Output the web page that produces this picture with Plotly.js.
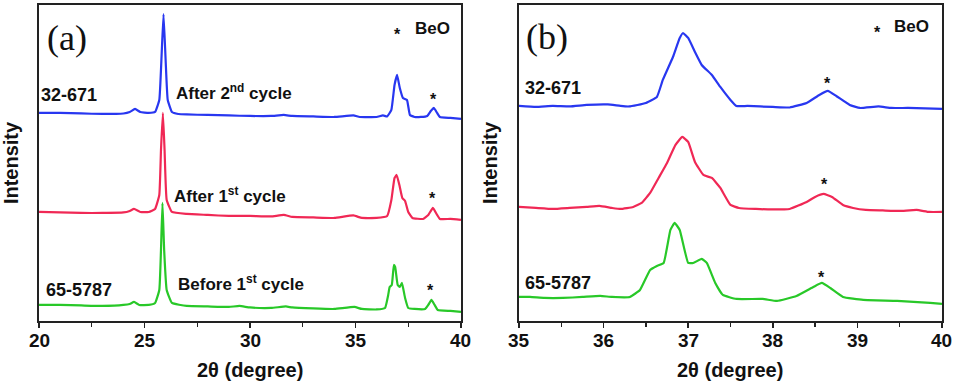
<!DOCTYPE html>
<html>
<head>
<meta charset="utf-8">
<script src="https://cdn.plot.ly/plotly-3.0.1.min.js"></script>
<style>
  html, body { margin: 0; padding: 0; background: #fff; }
  #chart { width: 957px; height: 383px; }
</style>
</head>
<body>
<div id="chart"></div>
<script>
// panel (a): 20-40 degree scans, offset traces
var xA_after2 = [20,21,22,23,24,24.3,24.55,24.8,25.2,25.5,25.7,25.8,25.9,26.0,26.1,26.3,26.6,27,28,29,30,31,31.6,32,33,34,34.9,35.2,36,36.3,36.5,36.7,36.85,36.97,37.1,37.25,37.44,37.58,37.8,38.1,38.4,38.57,38.72,38.87,39.0,39.5,40];
var yA_after2 = [208,208,207.5,207,207.5,209,212,209,208,209,221,261,307,261,221,209,207,206.5,206,205.5,205,205,206,205,204.5,204,205.5,204,204,205.5,204.5,211,236,246,233,223,221,206,204,204,205,210,213,208,204,203,202];

var xA_after1 = [20,21,22,23,24,24.3,24.5,24.8,25.2,25.5,25.7,25.78,25.87,25.95,26.05,26.3,27,28,29,30,31,31.6,32,33,34,34.9,35.3,36,36.5,36.7,36.85,36.95,37.08,37.22,37.35,37.5,37.7,38.2,38.45,38.67,38.87,39,39.5,40];
var yA_after1 = [109,108.5,108,108,108.5,110,112,109,109,112,126,171,208,171,121,109,107,106,105,105,104.5,106,104,103.5,103,105.5,103,103,105,121,143,146,136,123,120,109,103,102,106,113,106,102,102,101];

var xA_before1 = [20,21,22,23,24,24.3,24.5,24.75,25.2,25.5,25.7,25.78,25.85,25.93,26.05,26.3,27,28,29,29.5,30,31,31.7,32,33,34,34.95,35.3,36,36.4,36.55,36.62,36.72,36.82,36.88,37.0,37.1,37.2,37.35,37.5,37.8,38.3,38.45,38.6,38.75,38.9,39.5,40];
var yA_before1 = [16,16,15.5,15,16,17,19,16,16,18,31,71,118,71,31,18,15,14.5,14,15,13.5,13,14.5,13.5,12.5,12,14,12,11.5,13,26,34,36,56,54,36,34,38,23,13,12,12,16,21,16,11,10,9];

// panel (b): 35-40 degree close-up
var xB_after2 = [35.0,35.2,35.4,35.6,35.8,36.05,36.2,36.3,36.4,36.5,36.63,36.7,36.82,36.9,36.94,37.0,37.08,37.16,37.28,37.38,37.5,37.57,37.7,38.0,38.2,38.4,38.55,38.65,38.75,38.91,39.03,39.25,39.4,39.6,39.8,40.0];
var yB_after2 = [215,214,215,214.5,216,216.5,215,214.5,216,218,224,241,264,283,288,283,269,256,246,234,221,215,215,214,213.5,218,226,230,225,216,213,214.5,213,213,212.5,212];

var xB_after1 = [35.0,35.2,35.4,35.6,35.8,35.95,36.1,36.2,36.35,36.45,36.55,36.65,36.75,36.85,36.93,37.0,37.08,37.18,37.28,37.38,37.5,37.6,37.8,38.0,38.2,38.4,38.5,38.6,38.7,38.83,38.95,39.1,39.3,39.5,39.7,39.85,40.0];
var yB_after1 = [114,113,112,113,114,115,113,112,114,118,128,143,158,176,184,179,159,146,143,133,116,113,112,111.5,112,119,124,127,124,116,113,111,110.5,110,111,109,109];

var xB_before1 = [35.0,35.13,35.3,35.52,35.75,35.96,36.1,36.31,36.43,36.55,36.63,36.71,36.79,36.84,36.9,37.0,37.06,37.16,37.22,37.32,37.41,37.57,37.88,38.05,38.28,38.48,38.58,38.68,38.83,39.07,39.47,39.86,40.0];
var yB_before1 = [24,24,23,23,24,25,24,24,31,51,55,58,91,98,91,58,58,62,58,38,26,22,22,20,25,34,38,33,24,21,20,18,17];

// BeO asterisk positions [x, y]
var starsA = [[38.7, 225], [38.65, 126], [38.55, 34]];
var starsB = [[38.65, 241], [38.61, 140], [38.57, 47]];

var ticksA = [20, 25, 30, 35, 40];
var ticksB = [35, 36, 37, 38, 39, 40];

var blue = 'rgb(40,55,240)';
var red = 'rgb(240,40,85)';
var green = 'rgb(40,200,40)';
var sans = 'Liberation Sans';

function line(x, y, color, xa, ya) {
    return {x: x, y: y, xaxis: xa, yaxis: ya, type: 'scatter', mode: 'lines',
        line: {color: color, width: 2.2, shape: 'spline', smoothing: 0.35},
        hoverinfo: 'skip', showlegend: false};
}

var data = [
    line(xA_after2, yA_after2, blue, 'x', 'y'),
    line(xA_after1, yA_after1, red, 'x', 'y'),
    line(xA_before1, yA_before1, green, 'x', 'y'),
    line(xB_after2, yB_after2, blue, 'x2', 'y2'),
    line(xB_after1, yB_after1, red, 'x2', 'y2'),
    line(xB_before1, yB_before1, green, 'x2', 'y2')
];

function label(text, x, y, xref, yref, size, anchor) {
    return {text: '<b>' + text + '</b>', x: x, y: y, xref: xref, yref: yref, showarrow: false,
        xanchor: anchor || 'left', yanchor: 'middle',
        font: {family: sans, size: size || 17, color: '#111'}};
}

var annotations = [
    {text: '(a)', x: 21.33, y: 283, xref: 'x', yref: 'y', showarrow: false,
        font: {family: 'Liberation Serif', size: 36, color: '#111'}},
    {text: '(b)', x: 35.33, y: 284, xref: 'x2', yref: 'y2', showarrow: false,
        font: {family: 'Liberation Serif', size: 36, color: '#111'}},
    label('32-671', 20.02, 226, 'x', 'y', 18),
    label('After 2<sup>nd</sup> cycle', 26.4, 229, 'x', 'y'),
    label('After 1<sup>st</sup> cycle', 26.3, 126, 'x', 'y'),
    label('65-5787', 20.25, 31, 'x', 'y', 18),
    label('Before 1<sup>st</sup> cycle', 26.5, 38, 'x', 'y'),
    label('BeO', 37.73, 292, 'x', 'y'),
    label('*', 36.97, 286, 'x', 'y', 16, 'center'),
    label('32-671', 35.05, 233, 'x2', 'y2', 18),
    label('65-5787', 35.05, 38, 'x2', 'y2', 18),
    label('BeO', 39.41, 294, 'x2', 'y2'),
    label('*', 39.24, 288, 'x2', 'y2', 16, 'center'),
    // x axis titles
    label('2θ (degree)', 30, 0.034, 'x', 'paper', 20, 'center'),
    label('2θ (degree)', 37.5, 0.034, 'x2', 'paper', 20, 'center')
];
starsA.forEach(function (s) { annotations.push(label('*', s[0], s[1] - 4, 'x', 'y', 16, 'center')); });
starsB.forEach(function (s) { annotations.push(label('*', s[0], s[1] - 4, 'x2', 'y2', 16, 'center')); });
// bold tick labels under each axis
ticksA.forEach(function (v) { annotations.push(label(String(v), v, 0.11, 'x', 'paper', 19, 'center')); });
ticksB.forEach(function (v) { annotations.push(label(String(v), v, 0.11, 'x2', 'paper', 19, 'center')); });

function xaxis(domain, range, vals, minor, anchor) {
    return {domain: domain, range: range, anchor: anchor,
        tickmode: 'array', tickvals: vals, showticklabels: false,
        showline: true, linecolor: '#222', linewidth: 1.6, mirror: true,
        ticks: 'outside', ticklen: 5, tickwidth: 1.6, tickcolor: '#222',
        minor: {dtick: minor, tick0: range[0], ticks: 'outside', ticklen: 4, tickwidth: 1.4, tickcolor: '#222'},
        showgrid: false, zeroline: false};
}

function yaxis(anchor) {
    return {domain: [0.162, 0.987], range: [0, 316], anchor: anchor,
        showline: true, linecolor: '#222', linewidth: 1.6, mirror: true,
        ticks: '', showticklabels: false, showgrid: false, zeroline: false,
        title: {text: '<b>Intensity</b>', standoff: 14,
            font: {family: sans, size: 20, color: '#111'}}};
}

var layout = {
    width: 957, height: 383,
    margin: {l: 0, r: 0, t: 0, b: 0},
    paper_bgcolor: '#fff', plot_bgcolor: '#fff',
    xaxis: xaxis([0.0408, 0.4817], [20, 40], ticksA, 2.5, 'y'),
    yaxis: yaxis('x'),
    xaxis2: xaxis([0.5423, 0.9843], [35, 40], ticksB, 0.5, 'y2'),
    yaxis2: yaxis('x2'),
    annotations: annotations
};

Plotly.newPlot('chart', data, layout, {displayModeBar: false, staticPlot: true});
</script>
</body>
</html>
